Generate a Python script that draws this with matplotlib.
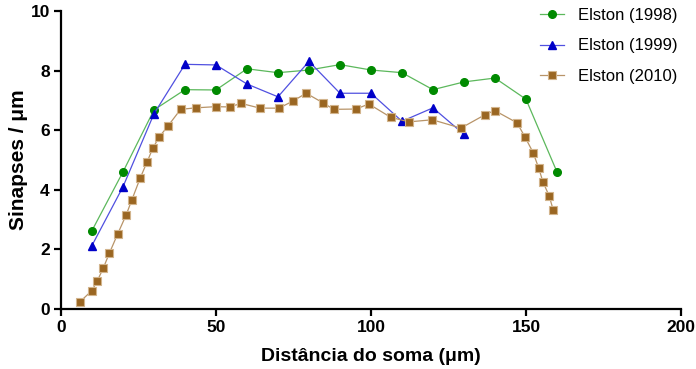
import matplotlib
matplotlib.use("Agg")
import matplotlib.pyplot as plt

# Elston (1998)
x_1998 = [10, 20, 30, 40, 50, 60, 70, 80, 90, 100, 110, 120, 130, 140, 150, 160]
y_1998 = [2.63, 4.60, 6.68, 7.36, 7.35, 8.06, 7.93, 8.02, 8.20, 8.02, 7.93, 7.36, 7.62, 7.75, 7.04, 4.60]

# Elston (1999)
x_1999 = [10, 20, 30, 40, 50, 60, 70, 80, 90, 100, 110, 120, 130]
y_1999 = [2.13, 4.10, 6.55, 8.21, 8.19, 7.55, 7.12, 8.31, 7.24, 7.24, 6.30, 6.75, 5.86]

# Elston (2010)
x_2010 = [6, 10, 11.7, 13.6, 15.6, 18.3, 21, 22.9, 25.5, 27.8, 29.6, 31.6, 34.5,
          38.6, 43.5, 49.9, 54.4, 58.1, 64.2, 70.3, 74.7, 79.1, 84.5, 88, 95.2,
          99.3, 106.4, 112.3, 119.8, 129, 136.8, 139.9, 147.1, 149.7, 152.3,
          154.1, 155.5, 157.5, 158.8]
y_2010 = [0.23, 0.62, 0.94, 1.36, 1.87, 2.52, 3.15, 3.67, 4.38, 4.94, 5.39, 5.76, 6.14,
          6.70, 6.75, 6.79, 6.78, 6.90, 6.74, 6.74, 6.97, 7.24, 6.92, 6.70, 6.71,
          6.88, 6.43, 6.28, 6.35, 6.07, 6.52, 6.66, 6.25, 5.77, 5.25,
          4.73, 4.26, 3.79, 3.32]

plt.rcParams['font.family'] = ['Liberation Sans', 'DejaVu Sans']

fig = plt.figure(figsize=(6.96, 3.69), dpi=100)
ax = fig.add_axes([0.0876, 0.1626, 0.8908, 0.8076])

ax.plot(x_1998, y_1998, '-o', color='#5cb85c', lw=0.9, ms=5.5,
        mfc='#008a00', mec='#008a00', label='Elston (1998)')
ax.plot(x_1999, y_1999, '-^', color='#5050e0', lw=0.9, ms=6,
        mfc='#0000c8', mec='#0000c8', label='Elston (1999)')
ax.plot(x_2010, y_2010, '-s', color='#b89468', lw=0.9, ms=6,
        mfc='#9a6622', mec='#d2b48c', mew=0.8, label='Elston (2010)')

ax.set_xlim(0, 200)
ax.set_ylim(0, 10)
ax.set_xticks([0, 50, 100, 150, 200])
ax.set_yticks([0, 2, 4, 6, 8, 10])
for s in ['top', 'right']:
    ax.spines[s].set_visible(False)
for s in ['left', 'bottom']:
    ax.spines[s].set_linewidth(1.6)
ax.tick_params(width=1.6, length=5, labelsize=12.5, pad=3)
for lab in ax.get_xticklabels() + ax.get_yticklabels():
    lab.set_fontweight('bold')

ax.set_xlabel('Distância do soma (μm)', fontsize=14, fontweight='bold', labelpad=9)
ax.set_ylabel('Sinapses / μm', fontsize=15, fontweight='bold', labelpad=2)

ax.legend(loc='upper right', bbox_to_anchor=(0.995, 1.02), bbox_transform=fig.transFigure,
          frameon=False, fontsize=12, handlelength=1.4, handletextpad=0.85,
          labelspacing=0.95)

fig.savefig('out.png', dpi=100)
